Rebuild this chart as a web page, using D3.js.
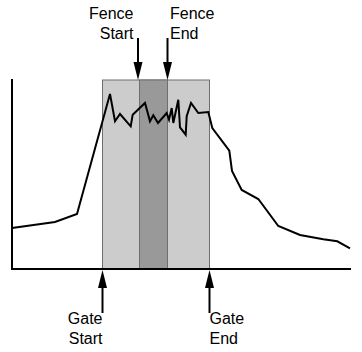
<!DOCTYPE html>
<html>
<head>
<meta charset="utf-8">
<script src="https://cdn.jsdelivr.net/npm/d3@7"></script>
<style>
  body { margin: 0; background: #fff; }
  svg { display: block; font-family: "Liberation Sans", Arial, sans-serif; }
</style>
</head>
<body>
<div id="chart"></div>
<script>
// signal trace (time, amplitude)
const times = [0, 43, 65, 98, 103, 108, 118.7, 120.7, 133, 138, 141.3, 146, 154.7, 157, 159.7, 161.3,
  166.3, 168, 173.7, 174.7, 179, 186.3, 196.3, 200.3, 217.3, 220, 229.7, 246.3, 266.3, 288, 311.3, 325.3, 338];
const amps = [41, 47, 55, 175, 147.7, 155, 142.7, 154.3, 166, 147.7, 153.7, 146, 156, 149.3, 161, 146,
  169.3, 141.7, 134.3, 152.7, 166, 156, 157, 141, 118.3, 98, 79, 70, 43, 34, 29.7, 27.7, 20.7];

// windows
const gate = [90.5, 197.5];
const fence = [127.5, 155.5];
const windowTop = 189;

const W = 362, H = 352;

let svg = d3.select("#chart").append("svg")
  .attr("width", W).attr("height", H);

let x = d3.scaleLinear().domain([0, 340]).range([12, 352]);
let y = d3.scaleLinear().domain([0, 190]).range([269, 79]);

// gate window
svg.append("rect")
  .attr("x", x(gate[0])).attr("y", y(windowTop))
  .attr("width", x(gate[1]) - x(gate[0]))
  .attr("height", y(0) - y(windowTop))
  .attr("fill", "#cccccc")
  .attr("stroke", "#6e6e6e").attr("stroke-width", 1);

// fence window
svg.append("rect")
  .attr("x", x(fence[0])).attr("y", y(windowTop))
  .attr("width", x(fence[1]) - x(fence[0]))
  .attr("height", y(0) - y(windowTop))
  .attr("fill", "#999999")
  .attr("stroke", "#6e6e6e").attr("stroke-width", 1);

// trace
let line = d3.line().x((d, i) => x(times[i])).y((d, i) => y(amps[i]));
svg.append("path")
  .datum(amps)
  .attr("d", line)
  .attr("fill", "none")
  .attr("stroke", "#000").attr("stroke-width", 2)
  .attr("stroke-linejoin", "miter");

// axes
svg.append("line")
  .attr("x1", x(0)).attr("x2", x(0))
  .attr("y1", y(0) + 1).attr("y2", y(190))
  .attr("stroke", "#000").attr("stroke-width", 2);
svg.append("line")
  .attr("x1", x(0) - 1).attr("x2", x(339))
  .attr("y1", y(0)).attr("y2", y(0))
  .attr("stroke", "#000").attr("stroke-width", 2);

// arrows + labels
const headLen = 18, headHalf = 4.5;
function arrow(px, from, tip) {
  let dir = tip > from ? 1 : -1;
  let base = tip - dir * headLen;
  svg.append("line")
    .attr("x1", px).attr("x2", px)
    .attr("y1", from).attr("y2", base + dir * 2)
    .attr("stroke", "#000").attr("stroke-width", 2);
  svg.append("path")
    .attr("d", `M${px - headHalf},${base} L${px + headHalf},${base} L${px},${tip} Z`)
    .attr("fill", "#000");
}
function label(px, py, lines, anchor) {
  let t = svg.append("text")
    .attr("x", px).attr("y", py)
    .attr("text-anchor", anchor)
    .attr("font-size", 16).attr("fill", "#000");
  lines.forEach((s, i) => t.append("tspan").attr("x", px).attr("dy", i ? 20 : 0).text(s));
}

arrow(x(fence[0]) - 1.5, 38, y(windowTop));
arrow(x(fence[1]), 38, y(windowTop));
arrow(x(gate[0]), 313, y(0) + 1);
arrow(x(gate[1]), 313, y(0) + 1);

label(x(fence[0]) - 6, 18.5, ["Fence", "Start"], "end");
label(x(fence[1]) + 2.5, 18.5, ["Fence", "End"], "start");
label(x(gate[0]), 323.5, ["Gate", "Start"], "end");
label(x(gate[1]), 323.5, ["Gate", "End"], "start");
</script>
</body>
</html>
